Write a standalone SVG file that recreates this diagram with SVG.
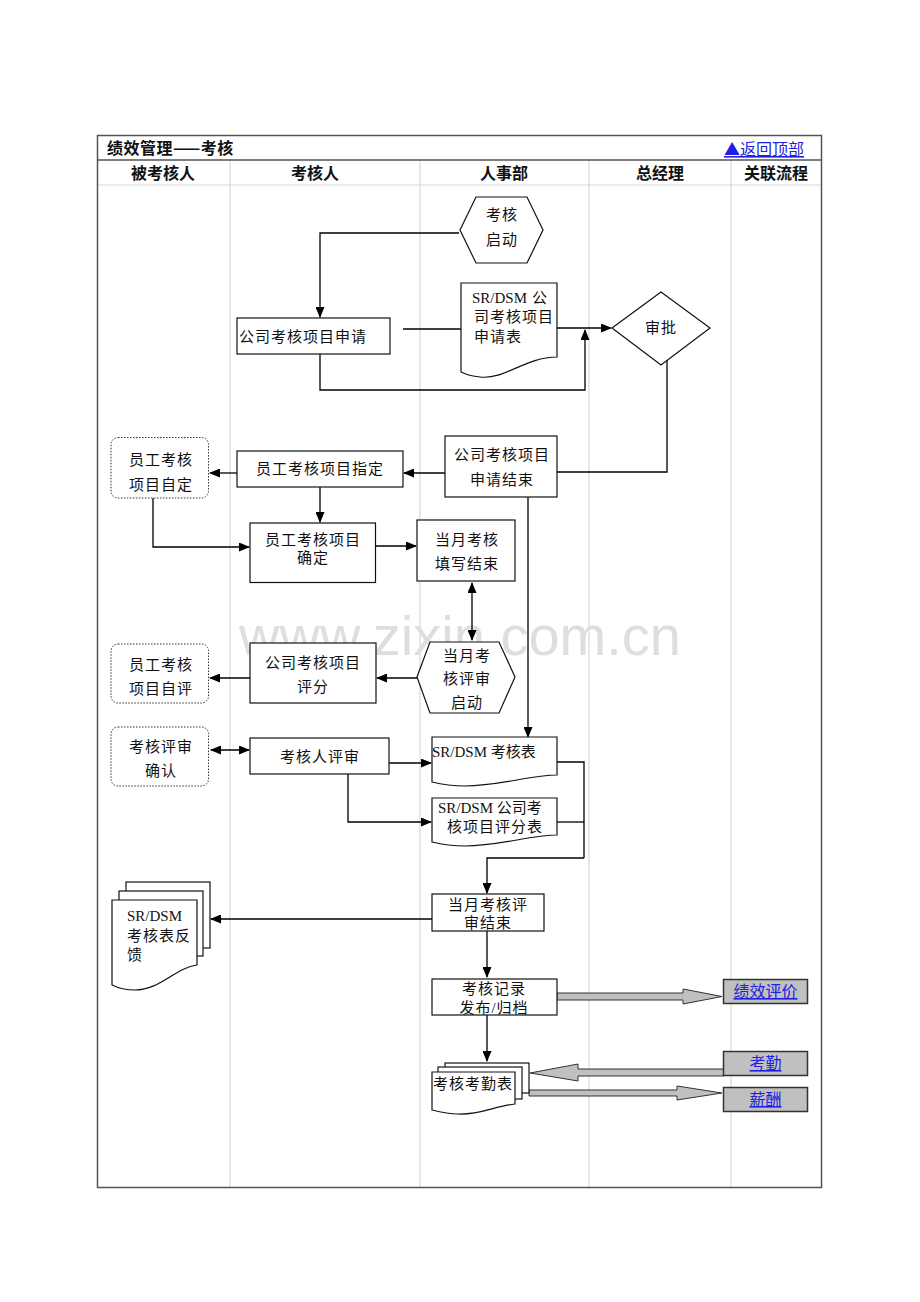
<svg xmlns="http://www.w3.org/2000/svg" width="920" height="1302" viewBox="0 0 920 1302">
<defs>
<marker id="ah" markerWidth="11" markerHeight="9" refX="10" refY="4.5" orient="auto-start-reverse" markerUnits="userSpaceOnUse"><path d="M0,0 L11,4.5 L0,9 z" fill="#000"/></marker>
<style>
.t{font-family:"Liberation Serif","Noto Sans CJK SC",serif;font-size:15px;fill:#111;letter-spacing:1px}
.l{letter-spacing:0}
.h{font-family:"Noto Sans CJK SC",sans-serif;font-size:16px;font-weight:bold;fill:#111}
.lk{font-family:"Noto Sans CJK SC",sans-serif;font-size:16px;fill:#2020e0;text-decoration:underline}
.n{fill:#fff;stroke:#111;stroke-width:1.2}
.d{fill:#fff;stroke:#333;stroke-width:1;stroke-dasharray:1.5,1.5}
.c{fill:none;stroke:#000;stroke-width:1.3}
.ca{fill:none;stroke:#000;stroke-width:1.3;marker-end:url(#ah)}
.cb{fill:none;stroke:#000;stroke-width:1.3;marker-end:url(#ah);marker-start:url(#ah)}
.g{stroke:#d8d8d8;stroke-width:1.2}
.ba{fill:#c0c0c0;stroke:#333;stroke-width:1}
.lb{fill:#c0c0c0;stroke:#333;stroke-width:1.5}
</style>
</defs>
<rect width="920" height="1302" fill="#fff"/>
<g id="frame">
<line class="g" x1="230" y1="160" x2="230" y2="1188"/>
<line class="g" x1="420" y1="160" x2="420" y2="1188"/>
<line class="g" x1="589" y1="160" x2="589" y2="1188"/>
<line class="g" x1="731" y1="160" x2="731" y2="1188"/>
<line class="g" x1="97" y1="185" x2="822" y2="185"/>
<line x1="97" y1="160" x2="822" y2="160" stroke="#555" stroke-width="1.3"/>
<rect x="97.5" y="135.5" width="724" height="1052" fill="none" stroke="#555" stroke-width="1.5"/>
<text class="h" x="107" y="154" letter-spacing="0.5">绩效管理——考核</text>
<text class="lk" x="724" y="155">▲返回顶部</text>
<text class="h" x="163" y="179" text-anchor="middle">被考核人</text>
<text class="h" x="315" y="179" text-anchor="middle">考核人</text>
<text class="h" x="504" y="179" text-anchor="middle">人事部</text>
<text class="h" x="660" y="179" text-anchor="middle">总经理</text>
<text class="h" x="776" y="179" text-anchor="middle">关联流程</text>
</g>
<text x="460" y="655" text-anchor="middle" font-family="Liberation Sans, Arial, sans-serif" font-size="56" fill="#dedede">www.zixin.com.cn</text>
<g id="connectors">
<polyline class="ca" points="459,233 320,233 320,317"/>
<line class="c" x1="403" y1="329" x2="461" y2="329"/>
<line class="ca" x1="557" y1="328" x2="611" y2="328"/>
<polyline class="ca" points="320,354 320,390 585,390 585,330"/>
<polyline class="c" points="667,360 667,472 557,472"/>
<line class="ca" x1="445" y1="473" x2="404" y2="473"/>
<line class="ca" x1="237" y1="473" x2="210" y2="473"/>
<polyline class="ca" points="153,498 153,547 249,547"/>
<line class="ca" x1="320" y1="487" x2="320" y2="522"/>
<line class="ca" x1="376" y1="546" x2="416" y2="546"/>
<line class="cb" x1="472" y1="583" x2="472" y2="640"/>
<line class="ca" x1="528" y1="497" x2="528" y2="737"/>
<line class="ca" x1="417" y1="678" x2="377" y2="678"/>
<line class="ca" x1="250" y1="678" x2="210" y2="678"/>
<line class="cb" x1="211" y1="750" x2="249" y2="750"/>
<line class="ca" x1="389" y1="763" x2="431" y2="763"/>
<polyline class="ca" points="348,774 348,822 431,822"/>
<polyline class="c" points="557,762 584,762 584,858"/>
<line class="c" x1="557" y1="822" x2="584" y2="822"/>
<polyline class="ca" points="584,858 487,858 487,893"/>
<line class="ca" x1="432" y1="919" x2="211" y2="919"/>
<line class="ca" x1="487" y1="931" x2="487" y2="977"/>
<line class="ca" x1="487" y1="1015" x2="487" y2="1061"/>
<polygon class="ba" points="557,993 683,993 683,989 722,996.5 683,1004 683,1000 557,1000"/>
<polygon class="ba" points="724,1069 578,1069 578,1064 530,1073 578,1081 578,1076 724,1076"/>
<polygon class="ba" points="529,1090 677,1090 677,1086 722,1093 677,1100 677,1096 529,1096"/>
</g>
<g id="n1"><polygon class="n" points="460,230 476,197 527,197 543,230 527,263 476,263"/><text class="t" x="502" y="220" text-anchor="middle">考核</text><text class="t" x="502" y="245" text-anchor="middle">启动</text></g>
<g id="n2"><rect class="n" x="237" y="318" width="153" height="36"/><text class="t" x="239" y="342">公司考核项目申请</text></g>
<g id="n3"><path class="n" d="M461,283 H557 V357 C525,357 505,380 480,377 C470,376 465,374 461,372 Z"/><text class="t l" x="472" y="303">SR/DSM</text><text class="t" x="532" y="303">公</text><text class="t" x="474" y="322">司考核项目</text><text class="t" x="474" y="342">申请表</text></g>
<g id="n4"><polygon class="n" points="612,328 661,292 710,328 661,365"/><text class="t" x="661" y="333" text-anchor="middle">审批</text></g>
<g id="n5"><rect class="n" x="445" y="436" width="112" height="61"/><text class="t" x="502" y="460" text-anchor="middle">公司考核项目</text><text class="t" x="502" y="485" text-anchor="middle">申请结束</text></g>
<g id="n6"><rect class="n" x="237" y="451" width="166" height="36"/><text class="t" x="320" y="474" text-anchor="middle">员工考核项目指定</text></g>
<g id="n7"><rect class="d" x="111" y="437.5" width="97.5" height="60.5" rx="7"/><text class="t" x="161" y="465" text-anchor="middle">员工考核</text><text class="t" x="161" y="490" text-anchor="middle">项目自定</text></g>
<g id="n8"><rect class="n" x="250" y="523" width="125.5" height="59.5"/><text class="t" x="313" y="545" text-anchor="middle">员工考核项目</text><text class="t" x="313" y="563" text-anchor="middle">确定</text></g>
<g id="n9"><rect class="n" x="417" y="520" width="98" height="61"/><text class="t" x="467" y="545" text-anchor="middle">当月考核</text><text class="t" x="467" y="569" text-anchor="middle">填写结束</text></g>
<g id="n10"><polygon class="n" points="417,677 430,642 499,642 515,677 499,713 430,713"/><text class="t" x="467" y="661" text-anchor="middle">当月考</text><text class="t" x="467" y="684" text-anchor="middle">核评审</text><text class="t" x="467" y="708" text-anchor="middle">启动</text></g>
<g id="n11"><rect class="n" x="250" y="643" width="126" height="60"/><text class="t" x="313" y="668" text-anchor="middle">公司考核项目</text><text class="t" x="313" y="692" text-anchor="middle">评分</text></g>
<g id="n12"><rect class="d" x="111" y="644" width="97.5" height="59" rx="7"/><text class="t" x="161" y="670" text-anchor="middle">员工考核</text><text class="t" x="161" y="694" text-anchor="middle">项目自评</text></g>
<g id="n13"><rect class="d" x="111" y="727" width="97.5" height="59" rx="7"/><text class="t" x="161" y="752" text-anchor="middle">考核评审</text><text class="t" x="161" y="776" text-anchor="middle">确认</text></g>
<g id="n14"><rect class="n" x="250" y="738" width="139" height="36"/><text class="t" x="320" y="762" text-anchor="middle">考核人评审</text></g>
<g id="n15"><path class="n" d="M432,737 H557 V775 C530,775 500,786 465,786 C450,786 440,784 432,782 Z"/><text class="t l" x="432" y="757">SR/DSM 考核表</text></g>
<g id="n16"><path class="n" d="M432,798 H557 V835 C530,835 500,846 465,846 C450,846 440,844 432,842 Z"/><text class="t l" x="438" y="813">SR/DSM 公司考</text><text class="t" x="447" y="832">核项目评分表</text></g>
<g id="n17"><rect class="n" x="432" y="894" width="112" height="37"/><text class="t" x="488" y="910" text-anchor="middle">当月考核评</text><text class="t" x="488" y="928" text-anchor="middle">审结束</text></g>
<g id="n18"><rect class="n" x="126" y="882" width="84" height="66"/><rect class="n" x="119" y="891" width="84" height="65"/><path class="n" d="M112,900 H197 V965 C175,968 160,990 135,990 C125,990 118,988 112,985 Z"/><text class="t l" x="127" y="921">SR/DSM</text><text class="t" x="127" y="941" letter-spacing="2">考核表反</text><text class="t" x="127" y="960">馈</text></g>
<g id="n19"><rect class="n" x="432" y="979" width="125" height="36"/><text class="t" x="494" y="994" text-anchor="middle">考核记录</text><text class="t" x="494" y="1013" text-anchor="middle">发布/归档</text></g>
<g id="n20"><rect class="n" x="445" y="1063" width="84" height="30"/><rect class="n" x="438" y="1067" width="84" height="32"/><path class="n" d="M432,1072 H515 V1104 C495,1106 480,1115 458,1114 C448,1114 440,1112 432,1110 Z"/><text class="t" x="433" y="1089">考核考勤表</text></g>
<g id="n21"><rect class="lb" x="723.5" y="979.5" width="84" height="24"/><text class="lk" x="765.5" y="997" text-anchor="middle">绩效评价</text></g>
<g id="n22"><rect class="lb" x="723.5" y="1051.5" width="84" height="24"/><text class="lk" x="765.5" y="1069" text-anchor="middle">考勤</text></g>
<g id="n23"><rect class="lb" x="723.5" y="1087.5" width="84" height="24"/><text class="lk" x="765.5" y="1105" text-anchor="middle">薪酬</text></g>
</svg>
